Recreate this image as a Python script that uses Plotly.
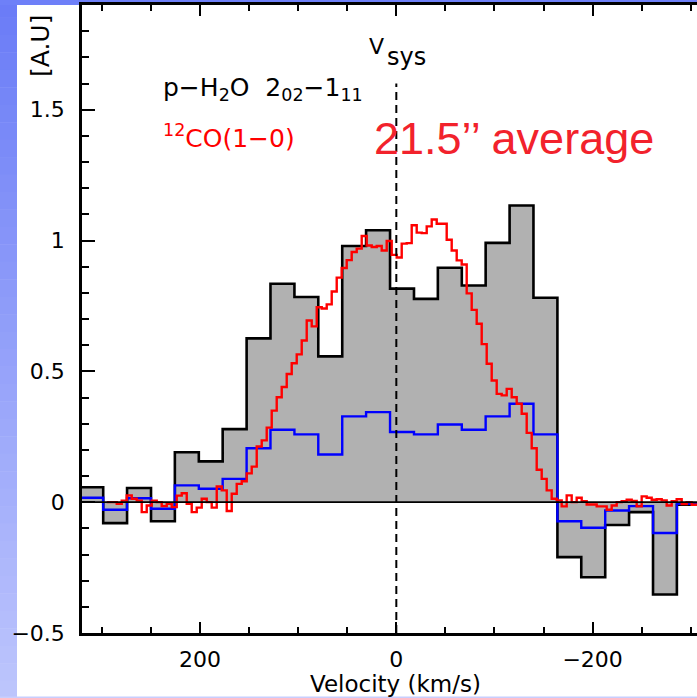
import numpy as np
import plotly.graph_objects as go

# ---------------- data ----------------
# p-H2O 2_02-1_11 histogram (bin centres in km/s, values in A.U.)
H2O_V = [310.8, 286.4, 262.1, 237.7, 213.4, 189.0, 164.7, 140.3, 116.0, 91.6,
         67.3, 42.9, 18.6, -5.8, -30.2, -54.5, -78.9, -103.2, -127.6, -151.9,
         -176.3, -200.6, -225.0, -249.3, -273.7, -298.0]
H2O_BLACK = [0.057, -0.080, 0.054, -0.073, 0.191, 0.156, 0.279, 0.626, 0.835, 0.784,
             0.557, 0.979, 1.039, 0.816, 0.777, 0.896, 0.828, 0.991, 1.134, 0.781,
             -0.210, -0.287, -0.087, -0.038, -0.353, -0.010]
H2O_BLUE = [0.017, -0.029, 0.015, -0.025, 0.064, 0.051, 0.089, 0.206, 0.277, 0.259,
            0.182, 0.328, 0.344, 0.268, 0.259, 0.297, 0.277, 0.328, 0.376, 0.259,
            -0.073, -0.098, -0.032, -0.015, -0.118, -0.006]

# 12CO(1-0) spectrum: first channel edge and channel width (km/s), values
CO_V_START = 295.0
CO_DV = 5.093
CO_VALUES = [0.000, 0.000, -0.006, 0.006, 0.026, 0.013, 0.006, -0.038, -0.013, 0.006,
             0.000, -0.015, -0.006, -0.019, 0.025, 0.034, -0.006, -0.038, -0.021, 0.013,
             0.000, -0.021, 0.060, 0.045, -0.034, 0.032, 0.070, 0.080, 0.110, 0.136,
             0.213, 0.236, 0.285, 0.350, 0.401, 0.440, 0.490, 0.531, 0.565, 0.618,
             0.694, 0.672, 0.745, 0.740, 0.756, 0.805, 0.858, 0.895, 0.925, 0.956,
             0.969, 1.017, 0.981, 0.975, 0.979, 0.962, 0.998, 0.945, 0.935, 0.988,
             0.990, 1.058, 1.030, 1.028, 1.054, 1.080, 1.064, 1.064, 1.003, 0.962,
             0.924, 0.908, 0.798, 0.735, 0.682, 0.604, 0.529, 0.465, 0.414, 0.408,
             0.433, 0.401, 0.376, 0.338, 0.265, 0.206, 0.124, 0.089, 0.045, 0.013,
             0.007, -0.016, 0.026, 0.000, 0.017, 0.004, -0.009, -0.009, -0.016, -0.016,
             -0.029, -0.013, 0.000, 0.004, 0.009, 0.005, -0.016, 0.022, 0.017, 0.009,
             0.011, 0.007, -0.013, 0.004, 0.011, -0.007, 0.000, -0.010, -0.010]

X_TICKS = [200, 0, -200]
X_TICK_LABELS = ["200", "0", "\u2212200"]
Y_TICKS = [-0.5, 0, 0.5, 1, 1.5]
Y_TICK_LABELS = ["\u22120.5", "0", "0.5", "1", "1.5"]
X_RANGE = [320.2, -306.3]
Y_RANGE = [-0.5, 1.9]
VSYS = 0
VSYS_TOP = 1.6

# ---------------- geometry helpers ----------------
W, H = 697, 698
ML, MR, MT, MB = 82, 0, 5, 65
PW, PH = W - ML - MR, H - MT - MB


def px_x(px):
    return (px - ML) / PW


def px_y(py):
    return (MT + PH - py) / PH


def step_path(centers, values):
    c = np.asarray(centers, dtype=float)
    w = c[1] - c[0]
    edges = list(c - w / 2) + [c[-1] + w / 2]
    vals = list(values) + [values[-1]]
    return edges, vals


hx, hy = step_path(H2O_V, H2O_BLACK)
bx, by = step_path(H2O_V, H2O_BLUE)
co_edges = CO_V_START - CO_DV * np.arange(len(CO_VALUES) + 1)
co_y = list(CO_VALUES) + [CO_VALUES[-1]]

fig = go.Figure()
fig.add_trace(go.Scatter(x=hx, y=hy, mode="lines", line=dict(shape="hv", color="black", width=2.6),
                         fill="tozeroy", fillcolor="#b1b1b1", hoverinfo="skip"))
fig.add_trace(go.Scatter(x=bx, y=by, mode="lines", line=dict(shape="hv", color="#0000ff", width=2.4),
                         hoverinfo="skip"))
fig.add_trace(go.Scatter(x=co_edges, y=co_y, mode="lines", line=dict(shape="hv", color="#ff0000", width=2.4),
                         hoverinfo="skip"))

shapes = []
# slide background gradient (left strip, top strip)
top_c = np.array([106, 124, 247])
bot_c = np.array([190, 198, 253])
nb = 40
for i in range(nb):
    t = (i + 0.5) / nb
    c = (top_c * (1 - t) + bot_c * t).astype(int)
    y0 = H * i / nb
    y1 = H * (i + 1) / nb + 0.5
    shapes.append(dict(type="rect", xref="paper", yref="paper", x0=px_x(0), x1=px_x(17),
                       y0=px_y(y1), y1=px_y(y0), line=dict(width=0),
                       fillcolor="rgb(%d,%d,%d)" % tuple(c), layer="below"))
shapes.append(dict(type="rect", xref="paper", yref="paper", x0=px_x(0), x1=px_x(W),
                   y0=px_y(5), y1=px_y(0), line=dict(width=0), fillcolor="rgb(110,128,248)", layer="below"))
shapes.append(dict(type="rect", xref="paper", yref="paper", x0=px_x(0), x1=px_x(W),
                   y0=px_y(H), y1=px_y(696.5), line=dict(width=0), fillcolor="rgb(200,206,253)", layer="below"))
# zero line
shapes.append(dict(type="line", xref="paper", yref="y", x0=0, x1=1, y0=0, y1=0,
                   line=dict(color="black", width=1.6), layer="above"))
# systemic velocity
shapes.append(dict(type="line", xref="x", yref="y", x0=VSYS, x1=VSYS, y0=Y_RANGE[0], y1=VSYS_TOP,
                   line=dict(color="black", width=2, dash="8px,5px"), layer="above"))

FONT = "DejaVu Sans"
ann = [
    dict(text="[A.U]", x=px_x(40), y=px_y(46), textangle=-90, font=dict(size=25, color="black", family=FONT)),
    dict(text="Velocity (km/s)", x=px_x(395), y=px_y(684), font=dict(size=23, color="black", family=FONT)),
    dict(text="p\u2212H<sub>2</sub>O\u00a0\u00a02<sub>02</sub>\u22121<sub>11</sub>", x=px_x(161), y=px_y(89),
         xanchor="left", font=dict(size=25, color="black", family=FONT)),
    dict(text="<sup>12</sup>CO(1\u22120)", x=px_x(161), y=px_y(136), xanchor="left",
         font=dict(size=25, color="#ff0000", family=FONT)),
    dict(text="V", x=px_x(376), y=px_y(47), font=dict(size=22, color="black", family=FONT)),
    dict(text="sys", x=px_x(406), y=px_y(57), font=dict(size=24, color="black", family=FONT)),
    dict(text="21.5\u2019\u2019 average", x=px_x(372), y=px_y(139), xanchor="left",
         font=dict(size=45, color="#f2222c", family="Liberation Sans")),
]
for a in ann:
    a.setdefault("xanchor", "center")
    a.update(xref="paper", yref="paper", yanchor="middle", showarrow=False)

fig.update_layout(
    width=W, height=H,
    margin=dict(l=ML, r=MR, t=MT, b=MB),
    paper_bgcolor="white", plot_bgcolor="white",
    showlegend=False,
    shapes=shapes,
    annotations=ann,
    xaxis=dict(range=X_RANGE, showgrid=False, zeroline=False, showline=True, linecolor="black", linewidth=2.5,
               mirror="ticks", ticks="inside", ticklen=11, tickwidth=2, tickcolor="black",
               tickvals=X_TICKS, ticktext=X_TICK_LABELS, ticklabelstandoff=5,
               tickfont=dict(size=22, color="black", family=FONT),
               minor=dict(dtick=50, tick0=0, ticks="inside", ticklen=6, tickwidth=2, tickcolor="black")),
    yaxis=dict(range=Y_RANGE, showgrid=False, zeroline=False, showline=True, linecolor="black", linewidth=2.5,
               mirror=False, ticks="inside", ticklen=13, tickwidth=2, tickcolor="black",
               tickvals=Y_TICKS, ticktext=Y_TICK_LABELS, ticklabelstandoff=10,
               tickfont=dict(size=22, color="black", family=FONT),
               minor=dict(dtick=0.1, tick0=0, ticks="inside", ticklen=7.5, tickwidth=2, tickcolor="black")),
)

fig.write_html("out.html")
